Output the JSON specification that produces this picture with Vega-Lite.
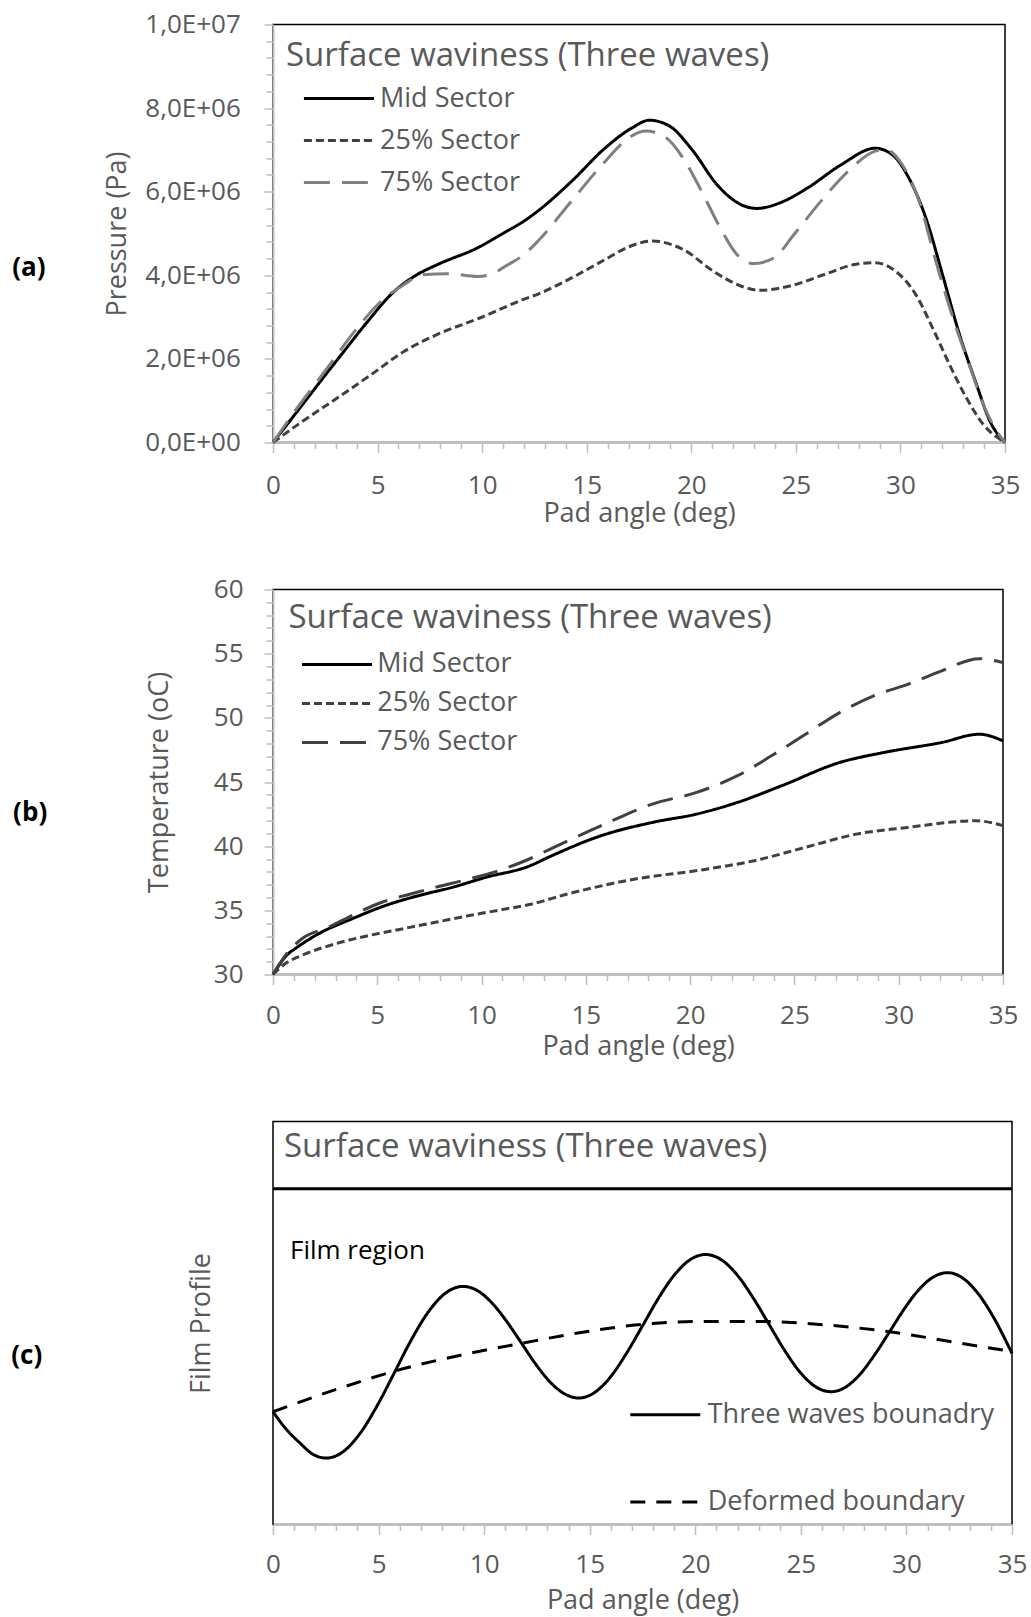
{
  "$schema": "https://vega.github.io/schema/vega-lite/v6.json",
  "background": "white",
  "padding": {"left": 10, "top": 10.5, "right": 5, "bottom": 2},
  "bounds": "flush",
  "columns": 1,
  "spacing": 147,
  "resolve": {"scale": {"color": "independent", "strokeDash": "independent"}, "legend": {"color": "independent", "strokeDash": "independent"}},
  "config": {
    "font": "Open Sans",
    "view": {"stroke": "#000000", "strokeWidth": 1.5},
    "axis": {
      "domainColor": "#bfbfbf", "domainWidth": 2, "tickColor": "#bfbfbf", "tickWidth": 1.5,
      "grid": false, "labelFont": "Open Sans", "labelFontSize": 26, "labelColor": "#595959",
      "titleFont": "Open Sans", "titleFontSize": 27, "titleFontWeight": "normal", "titleColor": "#595959",
      "labelOverlap": false, "labelFlush": false, "labelBound": false
    },
    "legend": {
      "padding": 0, "symbolType": "stroke", "symbolSize": 4900, "symbolStrokeWidth": 3,
      "labelFont": "Open Sans", "labelFontSize": 27, "labelColor": "#595959", "labelLimit": 700,
      "titleFont": "Open Sans", "titleFontSize": 33, "titleFontWeight": "normal", "titleColor": "#595959", "titleLimit": 900
    },
    "title": {"font": "Open Sans", "fontWeight": "bold", "fontSize": 26, "color": "#000000"}
  },
  "datasets": {
    "pressure": [
      {"angle": 0, "pressure": 0, "sector": "Mid Sector"},
      {"angle": 1.06, "pressure": 680000, "sector": "Mid Sector"},
      {"angle": 2.17, "pressure": 1400000, "sector": "Mid Sector"},
      {"angle": 3.28, "pressure": 2110000, "sector": "Mid Sector"},
      {"angle": 4.55, "pressure": 2910000, "sector": "Mid Sector"},
      {"angle": 5.66, "pressure": 3550000, "sector": "Mid Sector"},
      {"angle": 6.77, "pressure": 3980000, "sector": "Mid Sector"},
      {"angle": 7.88, "pressure": 4260000, "sector": "Mid Sector"},
      {"angle": 9.79, "pressure": 4660000, "sector": "Mid Sector"},
      {"angle": 11.06, "pressure": 5020000, "sector": "Mid Sector"},
      {"angle": 12.01, "pressure": 5300000, "sector": "Mid Sector"},
      {"angle": 12.67, "pressure": 5540000, "sector": "Mid Sector"},
      {"angle": 14.28, "pressure": 6250000, "sector": "Mid Sector"},
      {"angle": 15.89, "pressure": 7050000, "sector": "Mid Sector"},
      {"angle": 17.18, "pressure": 7530000, "sector": "Mid Sector"},
      {"angle": 17.99, "pressure": 7710000, "sector": "Mid Sector"},
      {"angle": 18.96, "pressure": 7570000, "sector": "Mid Sector"},
      {"angle": 20.09, "pressure": 6970000, "sector": "Mid Sector"},
      {"angle": 21.21, "pressure": 6180000, "sector": "Mid Sector"},
      {"angle": 22.34, "pressure": 5700000, "sector": "Mid Sector"},
      {"angle": 23.15, "pressure": 5600000, "sector": "Mid Sector"},
      {"angle": 24.27, "pressure": 5740000, "sector": "Mid Sector"},
      {"angle": 25.56, "pressure": 6090000, "sector": "Mid Sector"},
      {"angle": 27.18, "pressure": 6650000, "sector": "Mid Sector"},
      {"angle": 28.79, "pressure": 7040000, "sector": "Mid Sector"},
      {"angle": 29.6, "pressure": 6890000, "sector": "Mid Sector"},
      {"angle": 30.4, "pressure": 6330000, "sector": "Mid Sector"},
      {"angle": 31.21, "pressure": 5380000, "sector": "Mid Sector"},
      {"angle": 32.01, "pressure": 4020000, "sector": "Mid Sector"},
      {"angle": 32.82, "pressure": 2590000, "sector": "Mid Sector"},
      {"angle": 33.63, "pressure": 1400000, "sector": "Mid Sector"},
      {"angle": 34.27, "pressure": 520000, "sector": "Mid Sector"},
      {"angle": 35, "pressure": 0, "sector": "Mid Sector"},
      {"angle": 0, "pressure": 0, "sector": "25% Sector"},
      {"angle": 1.22, "pressure": 440000, "sector": "25% Sector"},
      {"angle": 3.12, "pressure": 1080000, "sector": "25% Sector"},
      {"angle": 4.71, "pressure": 1630000, "sector": "25% Sector"},
      {"angle": 6.3, "pressure": 2190000, "sector": "25% Sector"},
      {"angle": 7.88, "pressure": 2590000, "sector": "25% Sector"},
      {"angle": 9.95, "pressure": 2990000, "sector": "25% Sector"},
      {"angle": 12.01, "pressure": 3430000, "sector": "25% Sector"},
      {"angle": 12.67, "pressure": 3550000, "sector": "25% Sector"},
      {"angle": 14.28, "pressure": 3940000, "sector": "25% Sector"},
      {"angle": 15.89, "pressure": 4380000, "sector": "25% Sector"},
      {"angle": 17.0, "pressure": 4680000, "sector": "25% Sector"},
      {"angle": 18.15, "pressure": 4820000, "sector": "25% Sector"},
      {"angle": 19.6, "pressure": 4620000, "sector": "25% Sector"},
      {"angle": 21.05, "pressure": 4100000, "sector": "25% Sector"},
      {"angle": 22.34, "pressure": 3750000, "sector": "25% Sector"},
      {"angle": 23.31, "pressure": 3640000, "sector": "25% Sector"},
      {"angle": 24.76, "pressure": 3750000, "sector": "25% Sector"},
      {"angle": 26.37, "pressure": 4020000, "sector": "25% Sector"},
      {"angle": 27.82, "pressure": 4260000, "sector": "25% Sector"},
      {"angle": 28.79, "pressure": 4300000, "sector": "25% Sector"},
      {"angle": 29.76, "pressure": 4100000, "sector": "25% Sector"},
      {"angle": 30.72, "pressure": 3550000, "sector": "25% Sector"},
      {"angle": 31.53, "pressure": 2750000, "sector": "25% Sector"},
      {"angle": 32.34, "pressure": 1870000, "sector": "25% Sector"},
      {"angle": 33.14, "pressure": 1080000, "sector": "25% Sector"},
      {"angle": 33.95, "pressure": 440000, "sector": "25% Sector"},
      {"angle": 35, "pressure": 0, "sector": "25% Sector"},
      {"angle": 0, "pressure": 0, "sector": "75% Sector"},
      {"angle": 1.06, "pressure": 760000, "sector": "75% Sector"},
      {"angle": 2.49, "pressure": 1710000, "sector": "75% Sector"},
      {"angle": 3.92, "pressure": 2670000, "sector": "75% Sector"},
      {"angle": 5.19, "pressure": 3390000, "sector": "75% Sector"},
      {"angle": 6.3, "pressure": 3790000, "sector": "75% Sector"},
      {"angle": 7.09, "pressure": 4010000, "sector": "75% Sector"},
      {"angle": 8.36, "pressure": 4040000, "sector": "75% Sector"},
      {"angle": 9.79, "pressure": 3970000, "sector": "75% Sector"},
      {"angle": 10.74, "pressure": 4100000, "sector": "75% Sector"},
      {"angle": 11.06, "pressure": 4200000, "sector": "75% Sector"},
      {"angle": 12.01, "pressure": 4500000, "sector": "75% Sector"},
      {"angle": 12.67, "pressure": 4820000, "sector": "75% Sector"},
      {"angle": 14.28, "pressure": 5780000, "sector": "75% Sector"},
      {"angle": 15.89, "pressure": 6730000, "sector": "75% Sector"},
      {"angle": 17.02, "pressure": 7290000, "sector": "75% Sector"},
      {"angle": 17.83, "pressure": 7450000, "sector": "75% Sector"},
      {"angle": 18.8, "pressure": 7290000, "sector": "75% Sector"},
      {"angle": 19.6, "pressure": 6810000, "sector": "75% Sector"},
      {"angle": 20.41, "pressure": 6090000, "sector": "75% Sector"},
      {"angle": 21.38, "pressure": 5140000, "sector": "75% Sector"},
      {"angle": 22.18, "pressure": 4500000, "sector": "75% Sector"},
      {"angle": 22.98, "pressure": 4280000, "sector": "75% Sector"},
      {"angle": 23.96, "pressure": 4420000, "sector": "75% Sector"},
      {"angle": 24.92, "pressure": 4980000, "sector": "75% Sector"},
      {"angle": 26.21, "pressure": 5780000, "sector": "75% Sector"},
      {"angle": 27.5, "pressure": 6490000, "sector": "75% Sector"},
      {"angle": 28.79, "pressure": 6970000, "sector": "75% Sector"},
      {"angle": 29.27, "pressure": 7010000, "sector": "75% Sector"},
      {"angle": 30.08, "pressure": 6650000, "sector": "75% Sector"},
      {"angle": 30.89, "pressure": 5780000, "sector": "75% Sector"},
      {"angle": 31.69, "pressure": 4340000, "sector": "75% Sector"},
      {"angle": 32.5, "pressure": 3000000, "sector": "75% Sector"},
      {"angle": 33.3, "pressure": 1850000, "sector": "75% Sector"},
      {"angle": 34.1, "pressure": 750000, "sector": "75% Sector"},
      {"angle": 34.6, "pressure": 280000, "sector": "75% Sector"},
      {"angle": 35, "pressure": 0, "sector": "75% Sector"}
    ],
    "temperature": [
      {"angle": 0, "temperature": 30, "sector": "Mid Sector"},
      {"angle": 0.72, "temperature": 31.6, "sector": "Mid Sector"},
      {"angle": 1.05, "temperature": 32.0, "sector": "Mid Sector"},
      {"angle": 2.17, "temperature": 33.16, "sector": "Mid Sector"},
      {"angle": 3.78, "temperature": 34.33, "sector": "Mid Sector"},
      {"angle": 5.38, "temperature": 35.37, "sector": "Mid Sector"},
      {"angle": 6.99, "temperature": 36.15, "sector": "Mid Sector"},
      {"angle": 8.59, "temperature": 36.79, "sector": "Mid Sector"},
      {"angle": 10.2, "temperature": 37.57, "sector": "Mid Sector"},
      {"angle": 12.29, "temperature": 38.45, "sector": "Mid Sector"},
      {"angle": 13.29, "temperature": 39.2, "sector": "Mid Sector"},
      {"angle": 15.74, "temperature": 40.82, "sector": "Mid Sector"},
      {"angle": 18.19, "temperature": 41.85, "sector": "Mid Sector"},
      {"angle": 20.31, "temperature": 42.5, "sector": "Mid Sector"},
      {"angle": 22.27, "temperature": 43.41, "sector": "Mid Sector"},
      {"angle": 24.39, "temperature": 44.71, "sector": "Mid Sector"},
      {"angle": 27.17, "temperature": 46.52, "sector": "Mid Sector"},
      {"angle": 29.29, "temperature": 47.3, "sector": "Mid Sector"},
      {"angle": 32.06, "temperature": 48.08, "sector": "Mid Sector"},
      {"angle": 33.86, "temperature": 48.72, "sector": "Mid Sector"},
      {"angle": 35, "temperature": 48.21, "sector": "Mid Sector"},
      {"angle": 0, "temperature": 30, "sector": "25% Sector"},
      {"angle": 0.56, "temperature": 30.82, "sector": "25% Sector"},
      {"angle": 1.37, "temperature": 31.48, "sector": "25% Sector"},
      {"angle": 2.97, "temperature": 32.38, "sector": "25% Sector"},
      {"angle": 4.58, "temperature": 33.03, "sector": "25% Sector"},
      {"angle": 6.18, "temperature": 33.55, "sector": "25% Sector"},
      {"angle": 7.79, "temperature": 34.07, "sector": "25% Sector"},
      {"angle": 9.4, "temperature": 34.59, "sector": "25% Sector"},
      {"angle": 11.0, "temperature": 35.06, "sector": "25% Sector"},
      {"angle": 12.29, "temperature": 35.45, "sector": "25% Sector"},
      {"angle": 14.11, "temperature": 36.27, "sector": "25% Sector"},
      {"angle": 17.37, "temperature": 37.44, "sector": "25% Sector"},
      {"angle": 20.63, "temperature": 38.17, "sector": "25% Sector"},
      {"angle": 23.08, "temperature": 38.87, "sector": "25% Sector"},
      {"angle": 25.53, "temperature": 39.91, "sector": "25% Sector"},
      {"angle": 27.97, "temperature": 40.94, "sector": "25% Sector"},
      {"angle": 30.43, "temperature": 41.46, "sector": "25% Sector"},
      {"angle": 33.7, "temperature": 41.98, "sector": "25% Sector"},
      {"angle": 35, "temperature": 41.6, "sector": "25% Sector"},
      {"angle": 0, "temperature": 30, "sector": "75% Sector"},
      {"angle": 0.72, "temperature": 31.75, "sector": "75% Sector"},
      {"angle": 1.37, "temperature": 32.77, "sector": "75% Sector"},
      {"angle": 2.65, "temperature": 33.68, "sector": "75% Sector"},
      {"angle": 3.94, "temperature": 34.72, "sector": "75% Sector"},
      {"angle": 5.22, "temperature": 35.63, "sector": "75% Sector"},
      {"angle": 6.59, "temperature": 36.27, "sector": "75% Sector"},
      {"angle": 7.79, "temperature": 36.79, "sector": "75% Sector"},
      {"angle": 9.4, "temperature": 37.44, "sector": "75% Sector"},
      {"angle": 10.68, "temperature": 38.02, "sector": "75% Sector"},
      {"angle": 12.29, "temperature": 39.0, "sector": "75% Sector"},
      {"angle": 13.29, "temperature": 39.77, "sector": "75% Sector"},
      {"angle": 15.74, "temperature": 41.6, "sector": "75% Sector"},
      {"angle": 18.19, "temperature": 43.28, "sector": "75% Sector"},
      {"angle": 20.31, "temperature": 44.19, "sector": "75% Sector"},
      {"angle": 22.27, "temperature": 45.49, "sector": "75% Sector"},
      {"angle": 23.9, "temperature": 47.04, "sector": "75% Sector"},
      {"angle": 25.53, "temperature": 48.72, "sector": "75% Sector"},
      {"angle": 27.17, "temperature": 50.41, "sector": "75% Sector"},
      {"angle": 28.8, "temperature": 51.71, "sector": "75% Sector"},
      {"angle": 30.43, "temperature": 52.61, "sector": "75% Sector"},
      {"angle": 32.06, "temperature": 53.66, "sector": "75% Sector"},
      {"angle": 33.86, "temperature": 54.61, "sector": "75% Sector"},
      {"angle": 35, "temperature": 54.3, "sector": "75% Sector"}
    ],
    "film": [
      {"angle": 0, "profile": 28.0, "boundary": "Three waves bounadry"},
      {"angle": 0.6, "profile": 23.8, "boundary": "Three waves bounadry"},
      {"angle": 1.26, "profile": 20.3, "boundary": "Three waves bounadry"},
      {"angle": 1.9, "profile": 17.4, "boundary": "Three waves bounadry"},
      {"angle": 2.52, "profile": 16.49, "boundary": "Three waves bounadry"},
      {"angle": 3.33, "profile": 18.1, "boundary": "Three waves bounadry"},
      {"angle": 4.14, "profile": 22.73, "boundary": "Three waves bounadry"},
      {"angle": 4.95, "profile": 29.65, "boundary": "Three waves bounadry"},
      {"angle": 5.76, "profile": 37.79, "boundary": "Three waves bounadry"},
      {"angle": 6.56, "profile": 45.92, "boundary": "Three waves bounadry"},
      {"angle": 7.37, "profile": 52.85, "boundary": "Three waves bounadry"},
      {"angle": 8.18, "profile": 57.46, "boundary": "Three waves bounadry"},
      {"angle": 8.99, "profile": 59.08, "boundary": "Three waves bounadry"},
      {"angle": 9.68, "profile": 58.03, "boundary": "Three waves bounadry"},
      {"angle": 10.36, "profile": 55.03, "boundary": "Three waves bounadry"},
      {"angle": 11.05, "profile": 50.52, "boundary": "Three waves bounadry"},
      {"angle": 11.74, "profile": 45.24, "boundary": "Three waves bounadry"},
      {"angle": 12.42, "profile": 39.95, "boundary": "Three waves bounadry"},
      {"angle": 13.11, "profile": 35.44, "boundary": "Three waves bounadry"},
      {"angle": 13.8, "profile": 32.44, "boundary": "Three waves bounadry"},
      {"angle": 14.48, "profile": 31.39, "boundary": "Three waves bounadry"},
      {"angle": 15.23, "profile": 32.74, "boundary": "Three waves bounadry"},
      {"angle": 15.98, "profile": 36.6, "boundary": "Three waves bounadry"},
      {"angle": 16.73, "profile": 42.39, "boundary": "Three waves bounadry"},
      {"angle": 17.49, "profile": 49.2, "boundary": "Three waves bounadry"},
      {"angle": 18.24, "profile": 56.0, "boundary": "Three waves bounadry"},
      {"angle": 18.99, "profile": 61.79, "boundary": "Three waves bounadry"},
      {"angle": 19.74, "profile": 65.65, "boundary": "Three waves bounadry"},
      {"angle": 20.49, "profile": 67.0, "boundary": "Three waves bounadry"},
      {"angle": 21.23, "profile": 65.7, "boundary": "Three waves bounadry"},
      {"angle": 21.97, "profile": 62.01, "boundary": "Three waves bounadry"},
      {"angle": 22.71, "profile": 56.48, "boundary": "Three waves bounadry"},
      {"angle": 23.46, "profile": 49.97, "boundary": "Three waves bounadry"},
      {"angle": 24.2, "profile": 43.46, "boundary": "Three waves bounadry"},
      {"angle": 24.94, "profile": 37.93, "boundary": "Three waves bounadry"},
      {"angle": 25.68, "profile": 34.24, "boundary": "Three waves bounadry"},
      {"angle": 26.42, "profile": 32.94, "boundary": "Three waves bounadry"},
      {"angle": 27.11, "profile": 34.06, "boundary": "Three waves bounadry"},
      {"angle": 27.8, "profile": 37.27, "boundary": "Three waves bounadry"},
      {"angle": 28.49, "profile": 42.07, "boundary": "Three waves bounadry"},
      {"angle": 29.19, "profile": 47.72, "boundary": "Three waves bounadry"},
      {"angle": 29.88, "profile": 53.36, "boundary": "Three waves bounadry"},
      {"angle": 30.57, "profile": 58.16, "boundary": "Three waves bounadry"},
      {"angle": 31.26, "profile": 61.37, "boundary": "Three waves bounadry"},
      {"angle": 31.95, "profile": 62.49, "boundary": "Three waves bounadry"},
      {"angle": 32.64, "profile": 61.25, "boundary": "Three waves bounadry"},
      {"angle": 33.33, "profile": 57.74, "boundary": "Three waves bounadry"},
      {"angle": 34.01, "profile": 52.45, "boundary": "Three waves bounadry"},
      {"angle": 35, "profile": 42.46, "boundary": "Three waves bounadry"},
      {"angle": 0, "profile": 28.0, "boundary": "Deformed boundary"},
      {"angle": 3.0, "profile": 33.53, "boundary": "Deformed boundary"},
      {"angle": 6.15, "profile": 38.63, "boundary": "Deformed boundary"},
      {"angle": 9.3, "profile": 42.46, "boundary": "Deformed boundary"},
      {"angle": 11.83, "profile": 45.02, "boundary": "Deformed boundary"},
      {"angle": 14.08, "profile": 47.2, "boundary": "Deformed boundary"},
      {"angle": 17.29, "profile": 49.55, "boundary": "Deformed boundary"},
      {"angle": 20.49, "profile": 50.4, "boundary": "Deformed boundary"},
      {"angle": 22.89, "profile": 50.4, "boundary": "Deformed boundary"},
      {"angle": 26.1, "profile": 49.55, "boundary": "Deformed boundary"},
      {"angle": 29.3, "profile": 47.76, "boundary": "Deformed boundary"},
      {"angle": 32.5, "profile": 45.02, "boundary": "Deformed boundary"},
      {"angle": 35, "profile": 42.91, "boundary": "Deformed boundary"}
    ]
  },
  "concat": [
    {
      "width": 732,
      "height": 418,
      "title": {"text": "(a)", "orient": "left", "angle": 0, "align": "right", "baseline": "middle", "offset": 24.2, "dy": 34},
      "data": {"name": "pressure"},
      "mark": {"type": "line", "interpolate": "monotone", "strokeWidth": 3},
      "encoding": {
        "x": {
          "field": "angle", "type": "quantitative",
          "scale": {"domain": [0, 35], "nice": false},
          "axis": {
            "title": "Pad angle (deg)",
            "values": [0,1,2,3,4,5,6,7,8,9,10,11,12,13,14,15,16,17,18,19,20,21,22,23,24,25,26,27,28,29,30,31,32,33,34,35],
            "labelExpr": "datum.value % 5 === 0 ? datum.label : ''",
            "tickSize": {"condition": {"test": "datum.value % 5 === 0", "value": 10}, "value": 6},
            "labelPadding": 20, "titlePadding": 2
          }
        },
        "y": {
          "field": "pressure", "type": "quantitative",
          "scale": {"domain": [0, 10000000], "nice": false},
          "axis": {
            "title": "Pressure (Pa)",
            "values": [0,400000,800000,1200000,1600000,2000000,2400000,2800000,3200000,3600000,4000000,4400000,4800000,5200000,5600000,6000000,6400000,6800000,7200000,7600000,8000000,8400000,8800000,9200000,9600000,10000000],
            "labelExpr": "datum.value % 2000000 === 0 ? replace(replace(format(datum.value, '.1e'), '.', ','), 'e+', 'E+0') : ''",
            "tickSize": {"condition": {"test": "datum.value % 2000000 === 0", "value": 9}, "value": 7},
            "labelPadding": 23.7, "titlePadding": 13.7
          }
        },
        "color": {
          "field": "sector", "type": "nominal",
          "scale": {"domain": ["Mid Sector", "25% Sector", "75% Sector"], "range": ["#000000", "#404040", "#808080"]},
          "legend": {"title": "Surface waviness (Three waves)", "orient": "none", "legendX": 13, "legendY": 15, "symbolType": "M-1.3,0H1.3", "symbolSize": 2916, "symbolOffset": 24.5, "labelOffset": 12.5, "rowPadding": 0, "titlePadding": -2.5}
        },
        "strokeDash": {
          "field": "sector", "type": "nominal",
          "scale": {"domain": ["Mid Sector", "25% Sector", "75% Sector"], "range": [[1, 0], [8, 4], [26, 12]]},
          "legend": {"title": "Surface waviness (Three waves)", "orient": "none", "legendX": 13, "legendY": 15, "symbolType": "M-1.3,0H1.3", "symbolSize": 2916, "symbolOffset": 24.5, "labelOffset": 12.5, "rowPadding": 0, "titlePadding": -2.5}
        }
      }
    },
    {
      "width": 730,
      "height": 385,
      "title": {"text": "(b)", "orient": "left", "angle": 0, "align": "right", "baseline": "middle", "offset": 64, "dy": 30.5},
      "data": {"name": "temperature"},
      "mark": {"type": "line", "interpolate": "monotone", "strokeWidth": 3},
      "encoding": {
        "x": {
          "field": "angle", "type": "quantitative",
          "scale": {"domain": [0, 35], "nice": false},
          "axis": {
            "title": "Pad angle (deg)",
            "values": [0,1,2,3,4,5,6,7,8,9,10,11,12,13,14,15,16,17,18,19,20,21,22,23,24,25,26,27,28,29,30,31,32,33,34,35],
            "labelExpr": "datum.value % 5 === 0 ? datum.label : ''",
            "tickSize": {"condition": {"test": "datum.value % 5 === 0", "value": 10}, "value": 6},
            "labelPadding": 18, "titlePadding": 5
          }
        },
        "y": {
          "field": "temperature", "type": "quantitative",
          "scale": {"domain": [30, 60], "nice": false, "zero": false},
          "axis": {
            "title": "Temperature (oC)",
            "values": [30,31,32,33,34,35,36,37,38,39,40,41,42,43,44,45,46,47,48,49,50,51,52,53,54,55,56,57,58,59,60],
            "labelExpr": "datum.value % 5 === 0 ? datum.label : ''",
            "tickSize": {"condition": {"test": "datum.value % 5 === 0", "value": 9}, "value": 7},
            "labelPadding": 21, "titlePadding": 40
          }
        },
        "color": {
          "field": "sector", "type": "nominal",
          "scale": {"domain": ["Mid Sector", "25% Sector", "75% Sector"], "range": ["#000000", "#404040", "#404040"]},
          "legend": {"title": "Surface waviness (Three waves)", "orient": "none", "legendX": 15.5, "legendY": 12.4, "symbolType": "M-1.452,0H1.452", "symbolSize": 2323, "symbolOffset": 22.5, "labelOffset": 14.2, "rowPadding": 0, "titlePadding": 3.5}
        },
        "strokeDash": {
          "field": "sector", "type": "nominal",
          "scale": {"domain": ["Mid Sector", "25% Sector", "75% Sector"], "range": [[1, 0], [8, 4], [26, 12]]},
          "legend": {"title": "Surface waviness (Three waves)", "orient": "none", "legendX": 15.5, "legendY": 12.4, "symbolType": "M-1.452,0H1.452", "symbolSize": 2323, "symbolOffset": 22.5, "labelOffset": 14.2, "rowPadding": 0, "titlePadding": 3.5}
        }
      }
    },
    {
      "width": 739,
      "height": 403,
      "title": {"text": "(c)", "orient": "left", "angle": 0, "align": "right", "baseline": "middle", "offset": 113.7, "dy": 32.7},
      "encoding": {
        "x": {
          "type": "quantitative",
          "scale": {"domain": [0, 35], "nice": false},
          "axis": {
            "title": "Pad angle (deg)",
            "values": [0,1,2,3,4,5,6,7,8,9,10,11,12,13,14,15,16,17,18,19,20,21,22,23,24,25,26,27,28,29,30,31,32,33,34,35],
            "labelExpr": "datum.value % 5 === 0 ? datum.label : ''",
            "tickSize": {"condition": {"test": "datum.value % 5 === 0", "value": 10}, "value": 6},
            "labelPadding": 17, "titlePadding": 10
          }
        },
        "y": {
          "type": "quantitative",
          "scale": {"domain": [0, 100], "nice": false},
          "axis": {"title": "Film Profile", "labels": false, "ticks": false, "domain": false, "titlePadding": 58}
        }
      },
      "layer": [
        {
          "data": {"values": [{}]},
          "mark": {"type": "rule", "stroke": "#000000", "strokeWidth": 3},
          "encoding": {"y": {"datum": 83.3}}
        },
        {
          "data": {"name": "film"},
          "mark": {"type": "line", "interpolate": "monotone", "strokeWidth": 3},
          "encoding": {
            "x": {"field": "angle", "type": "quantitative"},
            "y": {"field": "profile", "type": "quantitative"},
            "color": {
              "field": "boundary", "type": "nominal",
              "scale": {"domain": ["Three waves bounadry", "Deformed boundary"], "range": ["#000000", "#000000"]},
              "legend": {"title": null, "orient": "none", "legendX": 355.8, "legendY": 256.7, "symbolOffset": 0, "labelOffset": 5.9, "rowPadding": 37.4}
            },
            "strokeDash": {
              "field": "boundary", "type": "nominal",
              "scale": {"domain": ["Three waves bounadry", "Deformed boundary"], "range": [[1, 0], [15, 11]]},
              "legend": {"title": null, "orient": "none", "legendX": 355.8, "legendY": 256.7, "symbolOffset": 0, "labelOffset": 5.9, "rowPadding": 37.4}
            }
          }
        },
        {
          "data": {"values": [{}]},
          "mark": {"type": "text", "text": "Surface waviness (Three waves)", "align": "left", "baseline": "alphabetic", "fontSize": 33, "color": "#595959", "font": "Open Sans"},
          "encoding": {"x": {"datum": 0.52}, "y": {"datum": 91.1}}
        },
        {
          "data": {"values": [{}]},
          "mark": {"type": "text", "text": "Film region", "align": "left", "baseline": "alphabetic", "fontSize": 26, "color": "#000000", "font": "Open Sans"},
          "encoding": {"x": {"datum": 0.805}, "y": {"datum": 65.9}}
        }
      ]
    }
  ]
}
